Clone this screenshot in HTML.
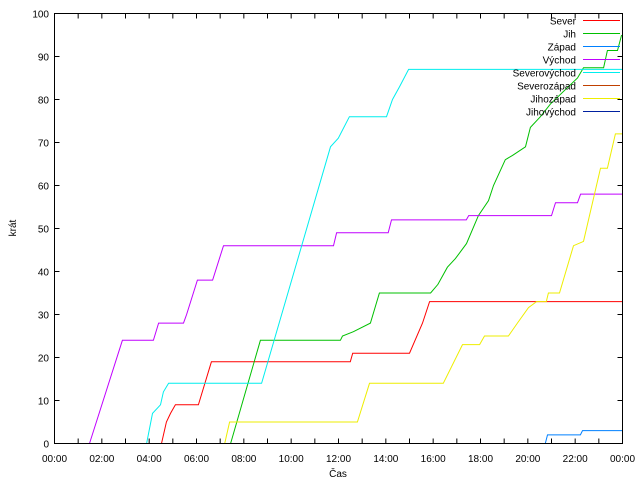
<!DOCTYPE html>
<html><head><meta charset="utf-8"><style>
html,body{margin:0;padding:0;background:#fff;}
svg{display:block;font-family:"Liberation Sans",sans-serif;font-size:10px;}
</style></head><body>
<svg id="chart" width="640" height="480" viewBox="0 0 640 480" xmlns="http://www.w3.org/2000/svg">
<rect x="0" y="0" width="640" height="480" fill="#fff"/>
<g id="grid"></g>
<g id="series"></g>
<g id="legend"></g>
<rect x="54.5" y="13.5" width="568" height="430" fill="none" stroke="#000" stroke-width="1"/>
<text x="338" y="477" text-anchor="middle">Čas</text>
<text x="16" y="228" text-anchor="middle" transform="rotate(-90 16 228)">krát</text>
</svg>
<script>
const xTickLabels = ["00:00","02:00","04:00","06:00","08:00","10:00","12:00","14:00","16:00","18:00","20:00","22:00","00:00"];
const yTickLabels = ["0","10","20","30","40","50","60","70","80","90","100"];
const seriesNames = ["Sever","Jih","Západ","Východ","Severovýchod","Severozápad","Jihozápad","Jihovýchod"];
const seriesColors = ["#ff0000","#00c000","#0080ff","#c000ff","#00eeee","#c04000","#eeee00","#0020a0"];
// [hour, value]
const sever = [[4.52,0],[4.73,5],[4.9,7],[5.11,9],[6.08,9],[6.63,19],[12.5,19],[12.6,21],[15.0,21],[15.55,28],[15.85,33],[24,33]];
const jih = [[7.44,0],[8.7,24],[12.08,24],[12.17,25],[12.63,26],[13.35,28],[13.73,35],[15.89,35],[16.2,37],[16.6,41],[16.94,43],[17.41,46.5],[17.91,53],[18.34,56.5],[18.55,60],[19.05,66],[19.35,67],[19.9,69],[20.11,73.5],[20.53,76],[20.96,79],[22.1,85],[22.35,87.4],[23.2,87.4],[23.36,91.4],[23.79,91.4],[23.96,95]];
const zapad = [[20.74,0],[20.83,2],[22.22,2],[22.31,3],[24,3]];
const vychod = [[1.48,0],[2.87,24],[4.18,24],[4.4,28],[5.45,28],[5.58,30],[6.04,38],[6.68,38],[7.14,46],[11.79,46],[11.92,49],[14.1,49],[14.24,52],[17.4,52],[17.5,53],[21.0,53],[21.17,56],[22.1,56],[22.23,58],[24,58]];
const severovychod = [[3.89,0],[4.14,7],[4.48,9],[4.6,12],[4.82,14],[8.75,14],[11.66,69],[11.99,71],[12.46,76],[14.03,76],[14.28,80],[14.58,83],[14.96,87],[24,87]];
const jihozapad = [[7.19,0],[7.4,5],[12.8,5],[13.31,14],[16.43,14],[17.24,23],[17.96,23],[18.17,25],[19.18,25],[19.56,28],[20.03,31.6],[20.37,33],[20.78,33],[20.87,35],[21.34,35],[21.93,46],[22.35,47],[23.07,64],[23.36,64],[23.7,72],[24,72]];
const seriesData = [sever, jih, zapad, vychod, severovychod, [], jihozapad, []];

const X0=54.5, X1=622.5, Y0=443.5, Y1=13.5;
const xScale = h => X0 + (X1-X0)*h/24;
const yScale = v => Y0 - (Y0-Y1)*v/100;
const NS="http://www.w3.org/2000/svg";
function mk(tag, attrs){const e=document.createElementNS(NS,tag);for(const k in attrs)e.setAttribute(k,attrs[k]);return e;}

const grid=document.getElementById('grid');
for(let h=0;h<=24;h++){
  const x=xScale(h);
  const t1=mk('line',{x1:x,y1:Y0,x2:x,y2:Y0-5,stroke:'#000'});
  
  
  grid.appendChild(t1);
  const t2=mk('line',{x1:x,y1:Y1,x2:x,y2:Y1+5,stroke:'#000'});
  
  
  grid.appendChild(t2);
}
xTickLabels.forEach((lab,i)=>{
  const t=mk('text',{x:xScale(i*2),y:462,'text-anchor':'middle'});
  t.textContent=lab;
  
  
  grid.appendChild(t);
});
yTickLabels.forEach((lab,i)=>{
  const y=yScale(i*10);
  const a=mk('line',{x1:X0,y1:y,x2:X0+5,y2:y,stroke:'#000'});
  
  
  grid.appendChild(a);
  const b=mk('line',{x1:X1,y1:y,x2:X1-5,y2:y,stroke:'#000'});
  
  
  grid.appendChild(b);
  const t=mk('text',{x:49,y:y+4,'text-anchor':'end'});
  t.textContent=lab;
  
  
  grid.appendChild(t);
});

const sg=document.getElementById('series');
seriesData.forEach((pts,i)=>{
  if(!pts.length)return;
  const p=mk('polyline',{points:pts.map(d=>xScale(d[0]).toFixed(1)+','+yScale(d[1]).toFixed(1)).join(' '),fill:'none',stroke:seriesColors[i],'stroke-width':1});
  
  
  sg.appendChild(p);
});

const lg=document.getElementById('legend');
seriesNames.forEach((n,i)=>{
  const y=20.5+i*13;
  const t=mk('text',{x:576,y:y+4,'text-anchor':'end'});
  t.textContent=n;
  
  
  lg.appendChild(t);
  const l=mk('line',{x1:583,y1:y,x2:620,y2:y,stroke:seriesColors[i]});
  
  
  lg.appendChild(l);
});
</script>
</body></html>
